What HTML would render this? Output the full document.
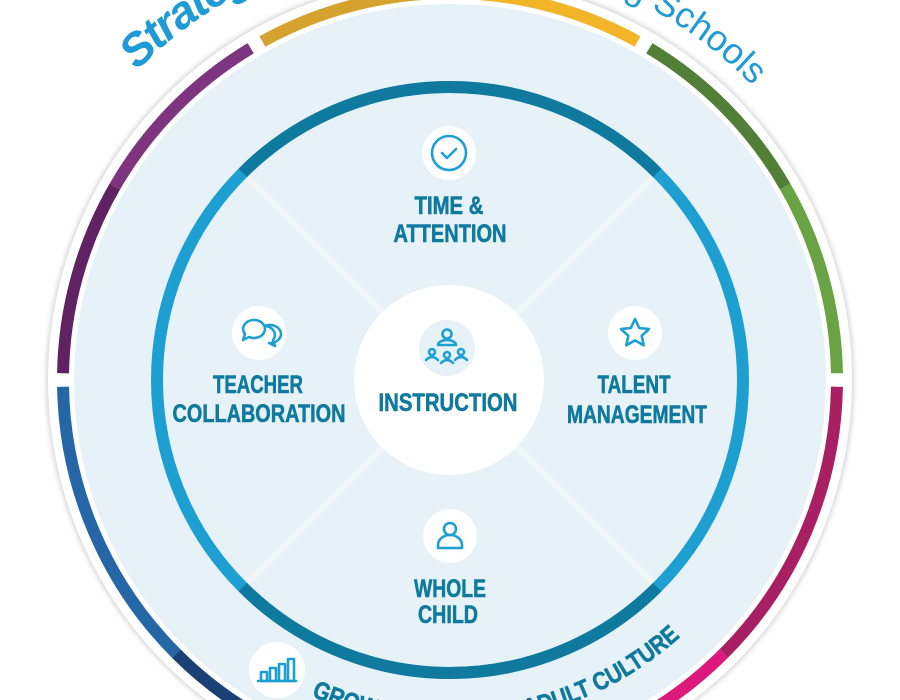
<!DOCTYPE html>
<html><head><meta charset="utf-8"><style>
html,body{margin:0;padding:0;background:#fff;width:900px;height:700px;overflow:hidden}
svg{display:block}
.l{font-family:"Liberation Sans Narrow","Liberation Sans",sans-serif;font-weight:bold;font-size:25px;fill:#10799e;text-anchor:middle;stroke:#10799e;stroke-width:0.6}
.ic{fill:none;stroke:#1e9fd2;stroke-width:2.6;stroke-linecap:round;stroke-linejoin:round}
</style></head><body>
<svg width="900" height="700" viewBox="0 0 900 700" xmlns="http://www.w3.org/2000/svg">
<defs>
<path id="tp1" d="M10,380 A440,440 0 0 1 890,380"/>
<path id="tp2" d="M28,380 A422,422 0 0 1 872,380"/>
<path id="bp" d="M105,380 A345,345 0 0 0 795,380"/>
<filter id="sh" x="-10%" y="-10%" width="120%" height="120%"><feGaussianBlur stdDeviation="2.5"/></filter>
</defs>
<circle cx="450" cy="380" r="404" fill="#d8d8d8" filter="url(#sh)"/>
<circle cx="450" cy="380" r="402" fill="#fff"/>
<circle cx="450" cy="380" r="376" fill="#e6f2f7"/>
<g fill="none" stroke-width="12">
<circle cx="450" cy="380" r="387" stroke="#d6a22e" stroke-dasharray="195.9 3000" transform="rotate(-119 450 380)"/>
<circle cx="450" cy="380" r="387" stroke="#f2b52a" stroke-dasharray="195.9 3000" transform="rotate(-90 450 380)"/>
<circle cx="450" cy="380" r="387" stroke="#517f37" stroke-dasharray="195.9 3000" transform="rotate(-59 450 380)"/>
<circle cx="450" cy="380" r="387" stroke="#6aa343" stroke-dasharray="195.9 3000" transform="rotate(-30 450 380)"/>
<circle cx="450" cy="380" r="387" stroke="#a82063" stroke-dasharray="297.2 3000" transform="rotate(1 450 380)"/>
<circle cx="450" cy="380" r="387" stroke="#dc1a7c" stroke-dasharray="297.2 3000" transform="rotate(45 450 380)"/>
<circle cx="450" cy="380" r="387" stroke="#1b4076" stroke-dasharray="297.2 3000" transform="rotate(91 450 380)"/>
<circle cx="450" cy="380" r="387" stroke="#2466a6" stroke-dasharray="297.2 3000" transform="rotate(135 450 380)"/>
<circle cx="450" cy="380" r="387" stroke="#5f2262" stroke-dasharray="195.9 3000" transform="rotate(181 450 380)"/>
<circle cx="450" cy="380" r="387" stroke="#7e3580" stroke-dasharray="195.9 3000" transform="rotate(210 450 380)"/>
</g>
<text font-family="Liberation Sans,sans-serif" font-weight="bold" font-style="italic" font-size="46" fill="#1e9ad6" letter-spacing="-2"><textPath href="#tp1" startOffset="343">Strategies for</textPath></text>
<text font-family="Liberation Sans,sans-serif" font-size="36" fill="#1e9ad6" text-anchor="end"><textPath href="#tp2" startOffset="1000">Transforming Schools</textPath></text>
<g stroke="#f1f7f9" stroke-width="6">
<line x1="383" y1="313" x2="243" y2="173"/>
<line x1="517" y1="313" x2="657" y2="173"/>
<line x1="383" y1="447" x2="243" y2="587"/>
<line x1="517" y1="447" x2="657" y2="587"/>
</g>
<circle cx="450" cy="380" r="293" fill="none" stroke="#1e9fd2" stroke-width="12"/>
<circle cx="450" cy="380" r="293" fill="none" stroke="#10799e" stroke-width="12" stroke-dasharray="460.2 3000" transform="rotate(-135 450 380)"/>
<circle cx="450" cy="380" r="293" fill="none" stroke="#10799e" stroke-width="12" stroke-dasharray="460.2 3000" transform="rotate(45 450 380)"/>
<circle cx="449" cy="380" r="95" fill="#fff"/>
<circle cx="447" cy="348" r="28" fill="#e6f2f7"/>
<g class="ic" stroke-width="2.2">
<circle cx="447" cy="334" r="4.5"/><path d="M438,345 a9,5 0 0 1 18,0 z"/>
<circle cx="432" cy="352" r="3"/><path d="M426,360 q6,-6 12,0"/>
<circle cx="447" cy="355" r="3"/><path d="M441,363 q6,-6 12,0"/>
<circle cx="461" cy="352" r="3"/><path d="M455,360 q6,-6 12,0"/>
</g>
<text class="l" x="448" y="411" textLength="139" lengthAdjust="spacingAndGlyphs">INSTRUCTION</text>
<circle cx="449" cy="153" r="27" fill="#fff"/>
<circle cx="449" cy="153" r="17" class="ic"/>
<path d="M442,153 l5,5 l9,-9" class="ic"/>
<text class="l" x="449" y="214" textLength="69" lengthAdjust="spacingAndGlyphs">TIME &amp;</text>
<text class="l" x="450" y="242" textLength="113" lengthAdjust="spacingAndGlyphs">ATTENTION</text>
<circle cx="259" cy="333" r="27" fill="#fff"/>
<path class="ic" d="M253,320 a11,9 0 1 1 -4,17 l-6,3 l2,-6 a11,9 0 0 1 8,-14 z"/>
<path class="ic" d="M265,326 a11,9 0 1 1 4,17 l6,3 l-2,-6 a11,9 0 0 0 -8,-14 z"/>
<text class="l" x="258" y="393" textLength="90" lengthAdjust="spacingAndGlyphs">TEACHER</text>
<text class="l" x="259" y="422" textLength="173" lengthAdjust="spacingAndGlyphs">COLLABORATION</text>
<circle cx="635" cy="333" r="27" fill="#fff"/>
<path class="ic" d="M635,319 l4.2,9 9.8,1.1 -7.3,6.6 2,9.7 -8.7,-5 -8.7,5 2,-9.7 -7.3,-6.6 9.8,-1.1 z"/>
<text class="l" x="634" y="393" textLength="73" lengthAdjust="spacingAndGlyphs">TALENT</text>
<text class="l" x="637" y="423" textLength="140" lengthAdjust="spacingAndGlyphs">MANAGEMENT</text>
<circle cx="450" cy="536" r="27" fill="#fff"/>
<circle cx="450" cy="529" r="6" class="ic"/>
<path class="ic" d="M438,548 v-3 a12,10 0 0 1 24,0 v3 z"/>
<text class="l" x="450" y="597" textLength="72" lengthAdjust="spacingAndGlyphs">WHOLE</text>
<text class="l" x="448" y="623" textLength="60" lengthAdjust="spacingAndGlyphs">CHILD</text>
<circle cx="277" cy="670" r="28" fill="#fff"/>
<g class="ic" stroke-width="2.2" stroke-linecap="butt">
<path d="M258,681 h38"/>
<rect x="261" y="672" width="6" height="9"/><rect x="270" y="668" width="6" height="13"/><rect x="279" y="664" width="6" height="17"/><rect x="288" y="659" width="6" height="22"/>
</g>
<text class="l" style="text-anchor:start" font-size="27" textLength="395" lengthAdjust="spacingAndGlyphs"><textPath href="#bp" startOffset="399">GROWTH-ORIENTED ADULT CULTURE</textPath></text>
</svg>
</body></html>
